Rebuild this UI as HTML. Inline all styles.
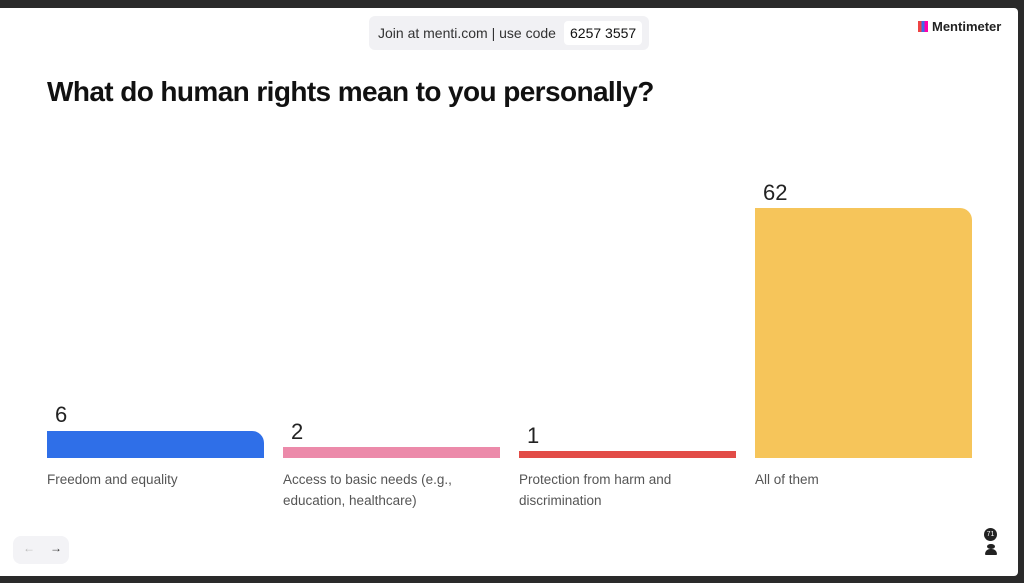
<!DOCTYPE html>
<html><head><style>
body{margin:0;width:1024px;height:583px;background:#2a2a2a;overflow:hidden;font-family:"Liberation Sans",sans-serif;position:relative}
.slide{position:absolute;left:0;top:8px;width:1018px;height:568px;background:#fff;border-radius:0 4px 4px 0}
.a{position:absolute}
.bar{position:absolute;border-radius:0 12px 0 0}
.num{position:absolute;font-size:22px;color:#222}
.lbl{position:absolute;font-size:13.5px;color:#555;line-height:21px;width:215px}
</style></head><body>
<div class="slide"></div>
<div class="a" style="left:369px;top:16px;width:280px;height:34px;background:#f1f1f4;border-radius:6px"></div>
<div class="a" style="left:378px;top:25px;font-size:14px;color:#333">Join at menti.com | use code</div>
<div class="a" style="left:564px;top:21px;width:78px;height:24px;background:#fff;border-radius:4px"></div>
<div class="a" style="left:570px;top:25px;font-size:14px;color:#111">6257 3557</div>
<div class="a" style="left:918px;top:21px;width:10px;height:11px;background:linear-gradient(90deg,#e44 0 33%,#3a6ee8 33% 66%,#f0a 66%)"></div>
<div class="a" style="left:932px;top:19px;font-size:13px;font-weight:bold;color:#222">Mentimeter</div>
<div class="a" style="left:47px;top:76px;font-size:28px;font-weight:bold;color:#111;letter-spacing:-0.6px">What do human rights mean to you personally?</div>
<div class="bar" style="left:47px;top:431px;width:217px;height:27px;background:#2f6fe8"></div>
<div class="bar" style="left:283px;top:447px;width:217px;height:11px;background:#ec8aaa;border-radius:0"></div>
<div class="bar" style="left:519px;top:451px;width:217px;height:7px;background:#e24c47;border-radius:0"></div>
<div class="bar" style="left:755px;top:208px;width:217px;height:250px;background:#f6c55a"></div>
<div class="num" style="left:55px;top:402px">6</div>
<div class="num" style="left:291px;top:419px">2</div>
<div class="num" style="left:527px;top:423px">1</div>
<div class="num" style="left:763px;top:180px">62</div>
<div class="lbl" style="left:47px;top:469px">Freedom and equality</div>
<div class="lbl" style="left:283px;top:469px">Access to basic needs (e.g., education, healthcare)</div>
<div class="lbl" style="left:519px;top:469px">Protection from harm and discrimination</div>
<div class="lbl" style="left:755px;top:469px">All of them</div>
<div class="a" style="left:13px;top:536px;width:56px;height:28px;background:#f3f3f6;border-radius:8px"></div>
<div class="a" style="left:23px;top:541px;font-size:12px;color:#bbb">←</div>
<div class="a" style="left:50px;top:541px;font-size:12px;color:#333">→</div>
<div class="a" style="left:984px;top:528px;width:13px;height:13px;background:#222;border-radius:50%;color:#fff;font-size:7px;text-align:center;line-height:13px">71</div>
<div class="a" style="left:987px;top:544px;width:8px;height:5px;background:#222;border-radius:50%"></div>
<div class="a" style="left:985px;top:549px;width:12px;height:6px;background:#222;border-radius:5px 5px 1px 1px"></div>
</body></html>
